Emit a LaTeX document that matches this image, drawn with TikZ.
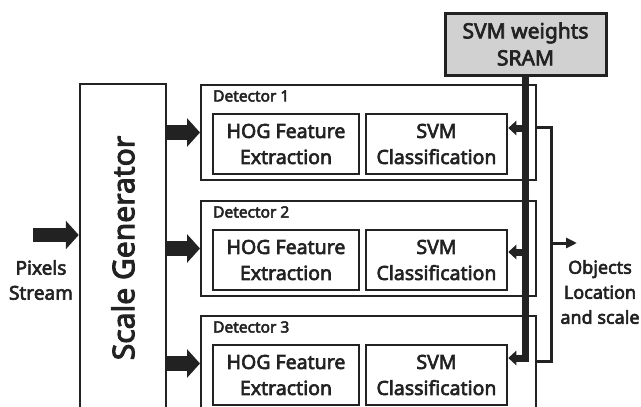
\documentclass[tikz,border=0pt]{standalone}
\usepackage{fontspec}
\setmainfont{Noto Sans}[AutoFakeBold=3.2]
\usetikzlibrary{arrows.meta,positioning}
\definecolor{ink}{HTML}{222222}
\tikzset{
	block/.style={draw=ink, line width=2.5pt, minimum width=146pt, minimum height=60pt, align=center,
		font=\bfseries\fontsize{19.5}{26}\selectfont, text=ink, inner sep=0pt},
	frame/.style={draw=ink, line width=2pt, minimum width=335pt, minimum height=95pt, inner sep=0pt},
	detlabel/.style={font=\bfseries\fontsize{15.5}{18}\selectfont, text=ink, inner sep=0pt},
	fatarrow/.style={draw=ink, line width=14.5pt, -{Triangle[width=28pt,length=13pt]}},
	weight/.style={draw=ink, line width=7pt, -{Triangle[width=14pt,length=8pt]}},
	result/.style={draw=ink, line width=3pt},
}
\begin{document}
\begin{tikzpicture}[x=1pt, y=-1pt]
	\clip (0,0) rectangle (641,407);
	%%Speicher
	\node[draw=ink, fill=black!18, line width=3pt, minimum width=161pt, minimum height=62pt, inner sep=0pt,
		align=center, font=\bfseries\fontsize{21}{27}\selectfont, text=ink] (sram) at (525.5,44) {SVM weights\\SRAM};
	%%Skalierung
	\node[draw=ink, line width=2.5pt, rotate=90, minimum width=328pt, minimum height=86pt, inner sep=0pt,
		font=\bfseries\fontsize{30}{36}\selectfont, text=ink] (scale) at (123,248) {Scale Generator};
	\node[align=center, font=\bfseries\fontsize{19}{25}\selectfont, text=ink] (pixels) at (41,280) {Pixels\\Stream};
	\coordinate (pin) at (33,235);
	\draw[fatarrow] (pin) -- (scale.north |- pin);
	%%Detektoren
	\foreach \i/\y/\a in {1/84/128, 2/200/252, 3/315/358}{
		\node[frame, anchor=north west] (det\i) at (200,\y) {};
		\node[detlabel, anchor=west] (lab\i) at (213,\y+12) {Detector \i};
		\node[block] (hog\i) at (286,\y+60) {HOG Feature\\Extraction};
		\node[block, minimum width=141pt] (svm\i) at (436.5,\y+60) {SVM\\Classification};
		\draw[fatarrow] (scale.south |- det\i.west) -- (det\i.west);
	}
	%%Gewichte
	\foreach \i/\a in {1/128, 2/252}
		\draw[weight] (sram.south |- 0,\a) -- (svm\i.east |- 0,\a);
	\draw[weight, line join=miter] (sram.south) |- (svm3.east |- 0,358);
	%%Ergebnis
	\coordinate (outbus) at (551,243);
	\coordinate (outend) at (577,243);
	\draw[result] (det1.east |- 0,127) -| (outbus) |- (det3.east |- 0,361);
	\draw[result, -{Triangle[width=10pt,length=11pt]}] (outbus) -- (outend);
	\node[align=center, inner sep=0pt, font=\bfseries\fontsize{18}{25}\selectfont, text=ink] (objects) at (600,292) {Objects\\Location\\and scale};
\end{tikzpicture}
\end{document}
